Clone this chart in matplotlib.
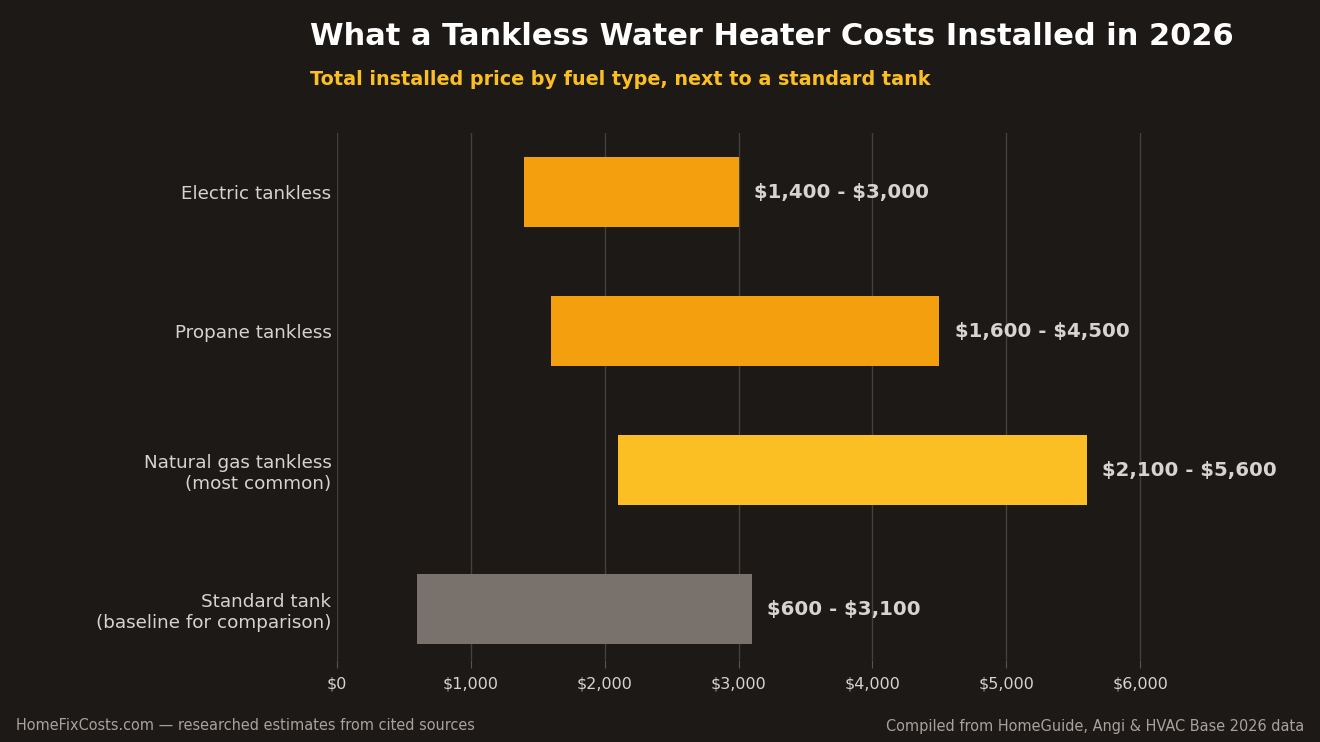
import matplotlib
matplotlib.use("Agg")
import matplotlib.pyplot as plt

plt.rcParams["text.parse_math"] = False

categories = ["Electric tankless", "Propane tankless",
              "Natural gas tankless\n(most common)",
              "Standard tank\n(baseline for comparison)"]
low = [1400, 1600, 2100, 600]
high = [3000, 4500, 5600, 3100]
labels = ["$1,400 - $3,000", "$1,600 - $4,500", "$2,100 - $5,600", "$600 - $3,100"]
colors = ["#F39F0E", "#F39F0E", "#FBBF24", "#78716C"]
xticks = [0, 1000, 2000, 3000, 4000, 5000, 6000]
xticklabels = ["$0", "$1,000", "$2,000", "$3,000", "$4,000", "$5,000", "$6,000"]

BG = "#1D1917"
fig = plt.figure(figsize=(13.2, 7.42), dpi=100, facecolor=BG)
ax = fig.add_axes([337/1320, 1-660/742, (1274-337)/1320, (660-133)/742])
ax.set_facecolor(BG)

ypos = list(range(len(categories)))
widths = [h - l for l, h in zip(low, high)]
ax.barh(ypos, widths, left=low, height=0.5, color=colors, zorder=3)

for y, h, lab in zip(ypos, high, labels):
    ax.annotate(lab, (h, y), xytext=(11, -0.7), textcoords="offset points",
                ha="left", va="center", fontsize=14.2, fontweight="bold",
                color="#D6D3D1", zorder=4)

ax.set_xlim(0, 7000)
ax.set_ylim(3.367, -0.424)
ax.set_xticks(xticks)
ax.set_xticklabels(xticklabels)
ax.set_yticks(ypos)
ax.set_yticklabels(categories)
ax.grid(axis="x", color="#44403C", linewidth=1, zorder=0)
for s in ax.spines.values():
    s.set_visible(False)
ax.tick_params(axis="x", colors="#57534E", labelcolor="#D6D3D1", labelsize=11.5,
               length=6, pad=6)
ax.tick_params(axis="y", length=0, labelcolor="#D6D3D1", labelsize=13.2, pad=4)

fig.text(310/1320, 1-36.5/742, "What a Tankless Water Heater Costs Installed in 2026",
         ha="left", va="center", fontsize=22, fontweight="bold", color="#FFFFFF")
fig.text(310/1320, 1-79.5/742, "Total installed price by fuel type, next to a standard tank",
         ha="left", va="center", fontsize=13.8, fontweight="bold", color="#FBBF24")
fig.text(16/1320, 1-726/742, "HomeFixCosts.com \u2014 researched estimates from cited sources",
         ha="left", va="center", fontsize=10.45, color="#A8A29E")
fig.text(1304/1320, 1-726/742, "Compiled from HomeGuide, Angi & HVAC Base 2026 data",
         ha="right", va="center", fontsize=10.45, color="#A8A29E")

fig.savefig("out.png", dpi=100, facecolor=BG)
